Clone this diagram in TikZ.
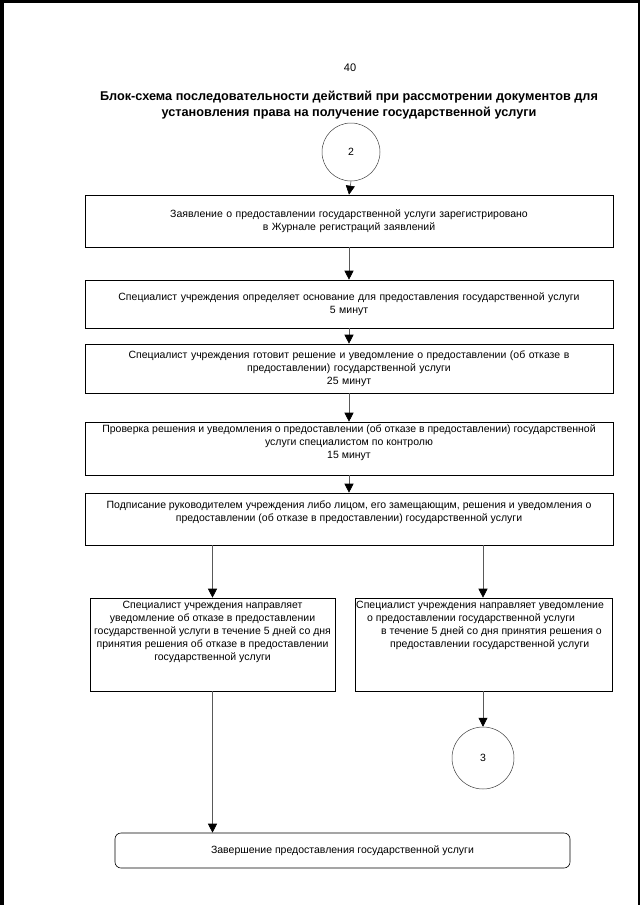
\documentclass[tikz,border=0pt]{standalone}
\usepackage{fontspec}
\setmainfont{Liberation Sans}
\usetikzlibrary{arrows.meta}
\tikzset{
  box/.style={draw=black, line width=0.6pt, rectangle, inner sep=0pt},
  circ/.style={draw=black!75, line width=0.5pt, circle, inner sep=0pt, minimum size=58pt, font=\fontsize{10.5}{13}\selectfont},
  txt/.style={inner sep=0pt, align=center, font=\fontsize{10.5}{13}\selectfont},
  conn/.style={draw=black!65, line width=0.6pt, -{Triangle[width=9pt,length=9pt,black]}},
  plain/.style={draw=black!65, line width=0.6pt},
}
\begin{document}
\begin{tikzpicture}[x=1pt,y=-1pt]
\useasboundingbox (0,0) rectangle (640,905);
% scan edges
\fill[black] (0,0) rectangle (4,905);
\fill[black] (0,0) rectangle (640,3);
\fill[black] (638,0) rectangle (640,905);

\node[txt, font=\fontsize{11}{13}\selectfont] (pg) at (350,68) {40};
\node[txt, font=\bfseries\fontsize{12.7}{16}\selectfont] (title) at (349,105)
  {Блок-схема последовательности действий при рассмотрении документов для\\
   установления права на получение государственной услуги};

\node[circ] (c2) at (351,152) {2};

\node[box, minimum width=528pt, minimum height=52pt, text width=520pt, align=center,
      font=\fontsize{10.5}{13}\selectfont] (b1) at (349,221)
  {Заявление о предоставлении государственной услуги зарегистрировано\\
   в Журнале регистраций заявлений};

\node[box, minimum width=528pt, minimum height=48pt, text width=520pt, align=center,
      font=\fontsize{10.5}{13}\selectfont] (b2) at (349,304)
  {Специалист учреждения определяет основание для предоставления государственной услуги\\
   5 минут};

\node[box, minimum width=528pt, minimum height=49pt, text width=520pt, align=center,
      font=\fontsize{10.5}{13}\selectfont] (b3) at (349,368.5)
  {Специалист учреждения готовит решение и уведомление о предоставлении (об отказе в\\
   предоставлении) государственной услуги\\
   25 минут};

\node[box, minimum width=528pt, minimum height=53pt] (b4) at (349,448.5) {};
\node[txt, anchor=north] (t4) at (349,425)
  {Проверка решения и уведомления о предоставлении (об отказе в предоставлении) государственной\\
   услуги специалистом по контролю\\
   15 минут};

\node[box, minimum width=528pt, minimum height=52pt] (b5) at (349,519) {};
\node[txt, anchor=north] (t5) at (349,501)
  {Подписание руководителем учреждения либо лицом, его замещающим, решения и уведомления о\\
   предоставлении (об отказе в предоставлении) государственной услуги};

\node[box, minimum width=245pt, minimum height=93pt] (b6l) at (212.5,644.5) {};
\node[txt, anchor=north] (t6l) at (212.5,601)
  {Специалист учреждения направляет\\
   уведомление об отказе в предоставлении\\
   государственной услуги в течение 5 дней со дня\\
   принятия решения об отказе в предоставлении\\
   государственной услуги};

\node[box, minimum width=257pt, minimum height=93pt] (b6r) at (483.5,644.5) {};
\node[txt, anchor=north west, align=left] (t6r) at (356,601)
  {Специалист учреждения направляет уведомление\\
   \hspace*{11pt}о предоставлении государственной услуги\\
   \hspace*{25pt}в течение 5 дней со дня принятия решения о\\
   \hspace*{34pt}предоставлении государственной услуги};

\node[circ, minimum size=62pt] (c3) at (483,758) {3};

\node[box, rounded corners=6pt, minimum width=455pt, minimum height=35pt] (end) at (342.5,850.5)
  {\fontsize{10.5}{13}\selectfont Завершение предоставления государственной услуги};

\draw[conn] (c2.south) -- (b1.north);
\draw[conn] (b1.south) -- (b2.north);
\draw[conn] (b2.south) -- (b3.north);
\draw[conn] (b3.south) -- (b4.north);
\draw[conn] (b4.south) -- (b5.north);
\draw[conn] (b5.south -| b6l.north) -- (b6l.north);
\draw[conn] (b5.south -| c3.north) -- (b6r.north -| c3.north);
\draw[conn] (b6r.south -| c3.north) -- (c3.north);
\draw[conn] (b6l.south) -- (end.north -| b6l.south);
\end{tikzpicture}
\end{document}
